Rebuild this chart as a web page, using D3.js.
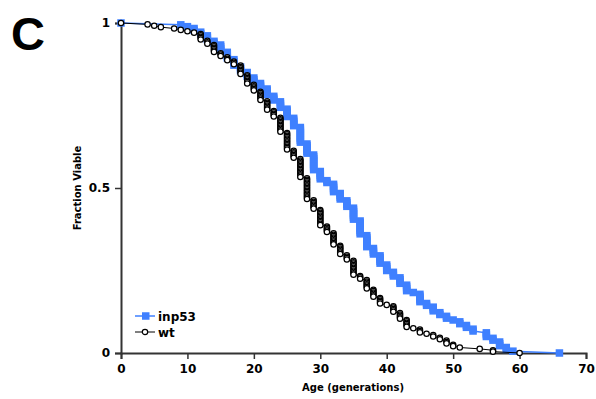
<!DOCTYPE html>
<html>
<head>
<meta charset="utf-8">
<script src="https://cdn.jsdelivr.net/npm/d3@7"></script>
<style>
  body { margin: 0; background: #fff; }
  text { font-family: 'DejaVu Sans', Verdana, sans-serif; font-weight: bold; fill: #000; }
</style>
</head>
<body>
<div id="chart"></div>
<script>
// cells followed per strain
const inpCount = 180;
const wtCount = 240;

// inp53: generation of death, and number of cells dying at that generation
const inpAges   = [9, 10, 11, 12, 13, 14, 15, 16, 17, 18, 19, 20, 21, 22, 23, 24, 25, 26, 27, 28, 29, 30, 31, 32, 33, 34, 35, 36, 37, 38, 39, 40, 41, 42, 43, 44, 45, 46, 47, 48, 49, 50, 51, 52, 53, 55, 56, 57, 58, 59, 66];
const inpDeaths = [1, 1, 2, 2, 3, 2, 4, 4, 4, 3, 3, 3, 3, 4, 3, 4, 5, 5, 9, 6, 9, 5, 2, 5, 4, 4, 7, 8, 7, 4, 5, 4, 3, 4, 4, 1, 5, 2, 3, 2, 2, 1, 2, 2, 2, 3, 2, 3, 2, 1, 1];

// wild type
const wtAges   = [4, 5, 6, 8, 9, 10, 11, 12, 13, 14, 15, 16, 17, 18, 19, 20, 21, 22, 23, 24, 25, 26, 27, 28, 29, 30, 31, 32, 33, 34, 35, 36, 37, 38, 39, 40, 41, 42, 43, 44, 45, 46, 47, 48, 49, 50, 51, 54, 56, 60];
const wtDeaths = [1, 1, 1, 1, 1, 1, 1, 5, 3, 6, 3, 3, 3, 7, 7, 5, 7, 7, 5, 11, 13, 6, 14, 16, 7, 12, 5, 9, 7, 4, 11, 3, 7, 6, 5, 1, 5, 5, 6, 1, 3, 1, 2, 2, 3, 2, 1, 1, 2, 1];

const xTicks = [0, 10, 20, 30, 40, 50, 60, 70];
const yTicks = [0, 0.5, 1];
const seriesNames = ['inp53', 'wt'];

const w = 596;
const h = 399;
const margin = ({ top: 23, right: 10, bottom: 46, left: 121 });
const blue = '#3f80ff';

// Kaplan-Meier style points: one point per dead cell
const toPoints = (ages, deaths, total) => {
  const pts = [{ age: 0, value: 1 }];
  let alive = total;
  ages.forEach((age, i) => {
    for (let k = 0; k < deaths[i]; k++) {
      alive -= 1;
      pts.push({ age, value: alive / total });
    }
  });
  return pts;
};

const inpPoints = toPoints(inpAges, inpDeaths, inpCount);
const wtPoints = toPoints(wtAges, wtDeaths, wtCount);

// Set up scales
const xScale = d3.scaleLinear()
  .domain([0, 70])
  .range([margin.left, w - margin.right]);

const yScale = d3.scaleLinear()
  .domain([0, 1])
  .range([h - margin.bottom, margin.top]);

const svg = d3.select('#chart')
  .append('svg')
  .attr('width', w)
  .attr('height', h);

// Panel letter
svg.append('text')
  .attr('x', 11)
  .attr('y', 50)
  .style('font-family', "'Liberation Sans', Arial, sans-serif")
  .style('font-size', '47px')
  .text('C');

// x axis
const xAxis = d3.axisBottom(xScale)
  .tickValues(xTicks)
  .tickSize(6)
  .tickPadding(5);

svg.append('g')
  .classed('x-axis', true)
  .attr('transform', `translate(0, ${yScale(0)})`)
  .call(xAxis);

// y axis
const yAxis = d3.axisLeft(yScale)
  .tickValues(yTicks)
  .tickFormat(d => String(d))
  .tickSize(6)
  .tickPadding(5);

svg.append('g')
  .classed('y-axis', true)
  .attr('transform', `translate(${xScale(0)}, 0)`)
  .call(yAxis);

svg.selectAll('.domain')
  .attr('stroke', '#333')
  .attr('stroke-width', 2);

svg.selectAll('.tick line')
  .attr('stroke', '#333')
  .attr('stroke-width', 1.5);

svg.selectAll('.tick text')
  .style('font-size', '12px')
  .attr('fill', '#000');

// Axis titles
svg.append('text')
  .attr('x', 353)
  .attr('y', 391)
  .attr('text-anchor', 'middle')
  .style('font-size', '10px')
  .text('Age (generations)');

svg.append('text')
  .attr('transform', `translate(81, ${yScale(0.5)}) rotate(-90)`)
  .attr('text-anchor', 'middle')
  .style('font-size', '10px')
  .text('Fraction Viable');

const line = d3.line()
  .x(d => xScale(d.age))
  .y(d => yScale(d.value));

// inp53 series
svg.append('path')
  .datum(inpPoints)
  .attr('fill', 'none')
  .attr('stroke', blue)
  .attr('stroke-width', 1.5)
  .attr('d', line);

svg.append('g')
  .selectAll('rect')
  .data(inpPoints)
  .join('rect')
  .attr('x', d => xScale(d.age) - 3.75)
  .attr('y', d => yScale(d.value) - 3.75)
  .attr('width', 7.5)
  .attr('height', 7.5)
  .attr('fill', blue);

// wt series
svg.append('path')
  .datum(wtPoints)
  .attr('fill', 'none')
  .attr('stroke', '#000')
  .attr('stroke-width', 1)
  .attr('d', line);

svg.append('g')
  .selectAll('circle')
  .data(wtPoints)
  .join('circle')
  .attr('cx', d => xScale(d.age))
  .attr('cy', d => yScale(d.value))
  .attr('r', 2.7)
  .attr('fill', '#fff')
  .attr('stroke', '#000')
  .attr('stroke-width', 1.2);

// Legend
const legend = svg.append('g').attr('transform', 'translate(135, 316)');

legend.append('line')
  .attr('x1', 0).attr('x2', 20).attr('y1', 0).attr('y2', 0)
  .attr('stroke', blue).attr('stroke-width', 1.5);
legend.append('rect')
  .attr('x', 7).attr('y', -3.75).attr('width', 7.5).attr('height', 7.5)
  .attr('fill', blue);
legend.append('text')
  .attr('x', 23).attr('y', 4.5)
  .style('font-size', '12px')
  .text(seriesNames[0]);

legend.append('line')
  .attr('x1', 0).attr('x2', 20).attr('y1', 16).attr('y2', 16)
  .attr('stroke', '#000').attr('stroke-width', 1);
legend.append('circle')
  .attr('cx', 10).attr('cy', 16).attr('r', 2.7)
  .attr('fill', '#fff').attr('stroke', '#000').attr('stroke-width', 1.2);
legend.append('text')
  .attr('x', 23).attr('y', 20.5)
  .style('font-size', '12px')
  .text(seriesNames[1]);
</script>
</body>
</html>
